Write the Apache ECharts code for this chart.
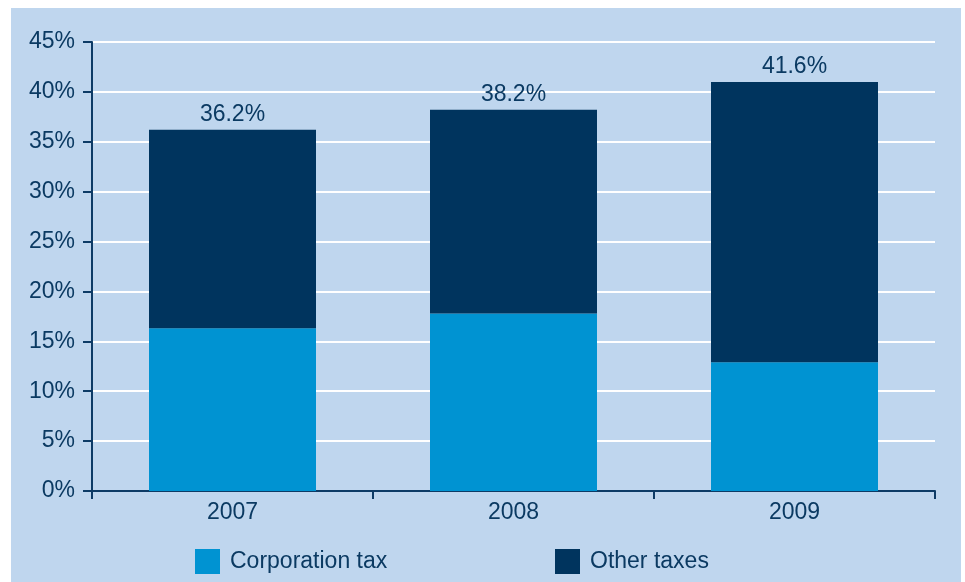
<!DOCTYPE html>
<html>
<head>
<meta charset="utf-8">
<script src="https://cdn.jsdelivr.net/npm/echarts@6/dist/echarts.min.js"></script>
<style>
  html, body { margin: 0; padding: 0; background: #fff; }
  #chart { width: 965px; height: 582px; }
</style>
</head>
<body>
<div id="chart"></div>
<script>
var years = ['2007', '2008', '2009'];
var corporationTax = [16.3, 17.8, 12.9];
var otherTaxes = [19.9, 20.4, 28.1];
var totalLabels = ['36.2%', '38.2%', '41.6%'];

var textColor = '#0b3a62';
var axisColor = '#0d3b66';

var legendBase = {
  top: 549, padding: 0,
  itemWidth: 25, itemHeight: 25,
  icon: 'rect',
  textStyle: { color: textColor, fontSize: 23, padding: [2, 0, 0, 5] }
};

var chart = echarts.init(document.getElementById('chart'));
chart.setOption({
  animation: false,
  textStyle: { fontFamily: 'Liberation Sans, Arial, sans-serif' },
  graphic: [{
    type: 'rect', z: -10, silent: true,
    shape: { x: 11, y: 8, width: 950, height: 574 },
    style: { fill: '#bfd6ee' }
  }],
  grid: { left: 92, right: 30, top: 42, bottom: 91, containLabel: false },
  legend: [
    Object.assign({ left: 195, data: ['Corporation tax'] }, legendBase),
    Object.assign({ left: 555, data: ['Other taxes'] }, legendBase)
  ],
  xAxis: {
    type: 'category',
    data: years,
    axisLine: { lineStyle: { color: axisColor, width: 2 } },
    axisTick: { show: true, length: 8, lineStyle: { color: axisColor, width: 2 } },
    axisLabel: { color: textColor, fontSize: 23, margin: 10 },
    splitLine: { show: false }
  },
  yAxis: {
    type: 'value',
    min: 0, max: 45, interval: 5,
    axisLine: { show: true, lineStyle: { color: axisColor, width: 2 } },
    axisTick: { show: true, length: 9, lineStyle: { color: axisColor, width: 2 } },
    axisLabel: { color: textColor, fontSize: 23, margin: 17, formatter: '{value}%' },
    splitLine: { lineStyle: { color: '#ffffff', width: 2 } }
  },
  series: [
    {
      name: 'Corporation tax',
      type: 'bar',
      stack: 'tax',
      barWidth: 167,
      itemStyle: { color: '#0093d2' },
      data: corporationTax
    },
    {
      name: 'Other taxes',
      type: 'bar',
      stack: 'tax',
      barWidth: 167,
      itemStyle: { color: '#00345e' },
      label: {
        show: true, position: 'top', distance: 4,
        color: textColor, fontSize: 23,
        formatter: function (p) { return totalLabels[p.dataIndex]; }
      },
      data: otherTaxes
    }
  ]
});
</script>
</body>
</html>
